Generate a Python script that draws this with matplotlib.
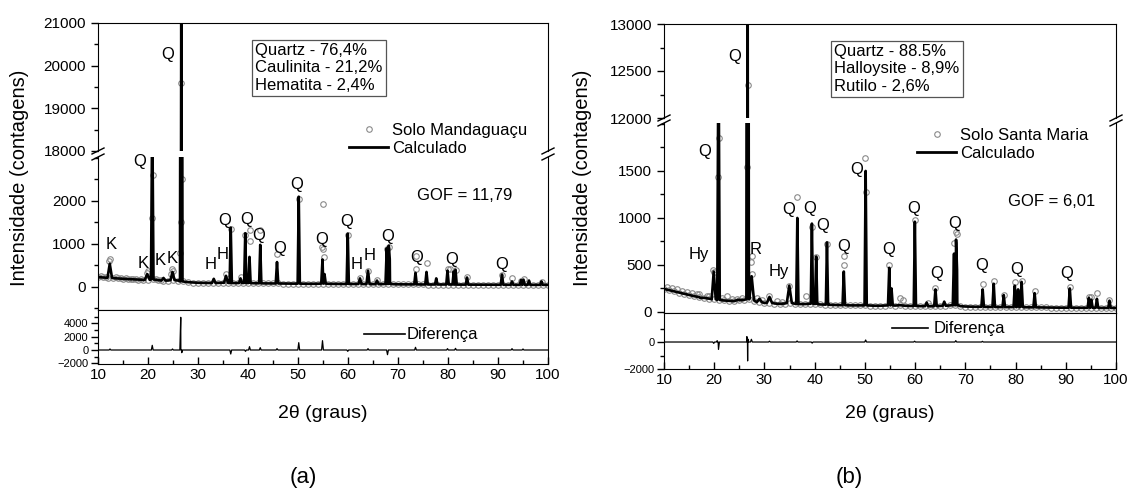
import numpy as np
import matplotlib
matplotlib.use("Agg")
import matplotlib.pyplot as plt
from matplotlib.lines import Line2D
from matplotlib.ticker import MultipleLocator, FixedLocator

plt.rcParams["font.family"] = ["Liberation Sans", "DejaVu Sans"]

W, H = 1134, 491

# ---- (a) Solo Mandaguacu ----
bg_a = [230, 222, 214, 206, 198, 190, 184, 178, 172, 168,
        165, 175, 160, 150, 150, 160, 150, 128, 112, 104,
        98, 95, 93, 92, 95, 100, 96, 92, 92, 94,
        92, 88, 86, 84, 84, 82, 82, 80, 78, 78,
        78, 76, 74, 74, 75, 80, 74, 72, 70, 70,
        70, 70, 70, 68, 68, 66, 66, 68, 72, 66,
        62, 62, 60, 60, 60, 60, 58, 58, 58, 58,
        58, 58, 56, 56, 55, 55, 54, 54, 53, 53,
        52, 52, 52, 51, 51, 50, 50, 50, 50, 50, 50]

pk_a_pos = [12.35, 19.85, 20.85, 23.1, 24.9, 26.65, 33.15, 35.6, 36.55, 38.5,
            39.45, 40.3, 42.45, 45.8, 50.15, 54.9, 55.3, 59.95, 62.4, 64.0,
            65.8, 67.75, 68.15, 68.35, 73.5, 75.7, 77.65, 79.9, 81.15, 81.5,
            83.8, 90.8, 92.8, 94.6, 95.1, 96.2, 98.7]
pk_a_int = [540, 300, 4200, 210, 350, 21500, 190, 260, 1380, 200,
            1250, 700, 980, 580, 2100, 640, 300, 1240, 200, 380,
            150, 900, 960, 650, 330, 350, 200, 380, 360, 400,
            220, 290, 130, 160, 170, 150, 130]
pk_a_hw = [0.45, 0.5, 0.25, 0.4, 0.4, 0.25, 0.35, 0.4, 0.22, 0.3,
           0.22, 0.22, 0.22, 0.25, 0.22, 0.25, 0.25, 0.22, 0.3, 0.3,
           0.3, 0.25, 0.25, 0.25, 0.25, 0.25, 0.25, 0.25, 0.25, 0.25,
           0.25, 0.25, 0.25, 0.25, 0.25, 0.25, 0.25]

obs_a_x = [12.2, 12.4, 19.7, 20.0, 20.85, 20.9, 24.6, 24.8, 25.0, 26.4,
           26.6, 26.65, 26.7, 35.6, 36.5, 38.6, 39.4, 40.3, 40.45, 42.4,
           45.8, 50.1, 54.8, 54.9, 55.0, 55.1, 59.9, 62.4, 64.0, 65.8,
           67.7, 68.1, 73.5, 73.6, 75.7, 79.9, 80.4, 81.5, 83.8, 90.8,
           92.8, 94.6, 95.1, 98.7,
           10.5, 11.5, 13.5, 14.5, 15.5, 16.5, 17.5, 18.5, 21.5, 22.5]
obs_a_y = [600, 650, 330, 370, 1600, 2600, 300, 420, 380, 800,
           1500, 19600, 2500, 300, 1350, 230, 1200, 1330, 1080, 1320,
           760, 2050, 930, 1930, 880, 700, 1200, 200, 380, 170,
           880, 940, 420, 720, 560, 420, 430, 400, 230, 280,
           210, 150, 180, 120,
           250, 238, 222, 212, 205, 196, 190, 184, 190, 172]

dif_a_pos = [12.4, 20.85, 24.9, 26.55, 26.75, 36.55, 39.5, 40.3, 42.45, 45.8,
             50.15, 54.9, 59.95, 64.0, 67.9, 73.5, 79.9, 81.5, 92.8, 95.0]
dif_a_val = [150, 700, 150, 4900, -400, -600, -200, 500, 350, 200,
             1100, 1400, -200, 200, -700, 400, 200, 250, 200, 150]

lab_a = [("Q", 24.0, 20262, "up"), ("Q", 18.4, 2907, "low"),
         ("K", 12.7, 977, "low"), ("K", 19.0, 551, "low"), ("K", 22.5, 605, "low"),
         ("K", 24.9, 667, "low"), ("H", 32.5, 512, "low"), ("H", 35.0, 767, "low"),
         ("Q", 35.3, 1543, "low"), ("Q", 39.7, 1574, "low"), ("Q", 42.2, 1186, "low"),
         ("Q", 46.3, 900, "low"), ("Q", 49.8, 2372, "low"), ("Q", 54.7, 1093, "low"),
         ("Q", 59.7, 1519, "low"), ("H", 61.8, 512, "low"), ("H", 64.3, 721, "low"),
         ("Q", 67.9, 1171, "low"), ("Q", 73.8, 690, "low"), ("Q", 80.8, 644, "low"),
         ("Q", 90.8, 528, "low")]

# ---- (b) Solo Santa Maria ----
bg_b = [245, 232, 218, 205, 192, 180, 168, 158, 150, 142,
        135, 128, 122, 118, 116, 125, 130, 135, 118, 105,
        95, 98, 90, 86, 90, 95, 88, 84, 84, 88,
        85, 80, 78, 76, 74, 72, 72, 70, 70, 70,
        70, 68, 66, 66, 68, 70, 68, 72, 66, 64,
        64, 62, 62, 60, 62, 64, 66, 70, 72, 62,
        58, 56, 55, 55, 54, 54, 53, 52, 52, 52,
        52, 52, 50, 50, 49, 48, 48, 47, 46, 46,
        46, 45, 45, 44, 44, 44, 44, 43, 43, 43, 42]

pk_b_pos = [17.6, 19.9, 20.85, 24.9, 26.65, 27.45, 29.0, 31.0, 34.95, 36.55,
            39.45, 40.3, 42.45, 45.8, 50.15, 54.85, 55.3, 59.95, 62.3, 64.05,
            65.8, 67.75, 68.15, 68.35, 73.45, 75.65, 77.65, 79.85, 80.5, 81.2,
            83.8, 90.8, 94.6, 95.1, 96.2, 98.7]
pk_b_int = [150, 430, 3000, 130, 14000, 380, 140, 160, 280, 1000,
            940, 590, 740, 430, 1500, 470, 250, 960, 100, 240,
            110, 620, 770, 450, 240, 300, 180, 280, 240, 320,
            200, 250, 150, 130, 140, 120]
pk_b_hw = [0.4, 0.4, 0.25, 0.4, 0.25, 0.45, 0.5, 0.5, 0.5, 0.22,
           0.22, 0.22, 0.22, 0.25, 0.22, 0.25, 0.25, 0.22, 0.3, 0.25,
           0.3, 0.25, 0.25, 0.25, 0.25, 0.25, 0.25, 0.25, 0.25, 0.25,
           0.25, 0.25, 0.25, 0.25, 0.25, 0.25]

obs_b_x = [19.8, 20.0, 20.85, 20.9, 22.5, 26.6, 26.65, 27.3, 27.45, 27.6,
           31.0, 34.9, 36.55, 38.3, 39.45, 40.3, 42.45, 45.75, 45.85, 50.1,
           50.2, 54.85, 57.0, 57.5, 59.95, 62.5, 64.05, 67.7, 68.1, 68.3,
           73.45, 75.65, 77.65, 79.85, 81.2, 83.8, 90.8, 94.6, 95.1, 96.2,
           98.7,
           10.5, 11.5, 12.5, 13.5, 14.5, 15.5, 16.5, 17.0, 18.5, 19.0,
           21.5, 23.5, 24.5, 25.5, 28.5, 29.5, 32.5, 33.5]
obs_b_y = [450, 420, 1440, 1850, 170, 1540, 12350, 530, 590, 400,
           170, 280, 1220, 170, 900, 580, 720, 590, 500, 1640,
           1280, 500, 150, 130, 980, 100, 260, 730, 850, 830,
           300, 330, 180, 320, 330, 220, 270, 160, 160, 200,
           130,
           268, 255, 242, 228, 216, 204, 192, 186, 172, 168,
           150, 140, 138, 150, 150, 128, 112, 110]

dif_b_pos = [19.9, 20.6, 20.85, 26.5, 26.65, 26.8, 27.4, 31.0, 36.5, 39.5,
             50.15, 59.9, 68.1, 73.4]
dif_b_val = [-100, 100, -550, 400, -1400, 200, 200, 60, 80, -80,
             150, 60, 100, 50]

lab_b = [("Q", 24.1, 12656, "up"), ("Q", 18.2, 1702, "low"),
         ("Hy", 17.0, 606, "low"), ("R", 28.3, 660, "low"), ("Hy", 32.9, 429, "low"),
         ("Q", 34.8, 1085, "low"), ("Q", 39.1, 1103, "low"), ("Q", 41.6, 915, "low"),
         ("Q", 45.7, 695, "low"), ("Q", 48.4, 1511, "low"), ("Q", 54.8, 660, "low"),
         ("Q", 59.7, 1103, "low"), ("Q", 64.2, 404, "low"), ("Q", 67.9, 936, "low"),
         ("Q", 73.3, 489, "low"), ("Q", 80.2, 454, "low"), ("Q", 90.2, 412, "low")]

grid_x = np.arange(10, 101)


def profile(bg, pos, hgt, hw):
    bg = np.asarray(bg, float)
    keep = np.ones(len(grid_x), bool)
    for p, w in zip(pos, hw):
        keep &= ~((grid_x > p - w) & (grid_x < p + w))
    xs = list(grid_x[keep])
    ys = list(bg[keep])
    for p, h, w in zip(pos, hgt, hw):
        base = bg[int(round(p)) - 10]
        xs += [p - w, p, p + w]
        ys += [base, h, base]
    order = np.argsort(xs, kind="stable")
    return np.array(xs)[order], np.array(ys)[order]


def pax(l, t, r, b):
    return fig.add_axes([l / W, 1 - b / H, (r - l) / W, (b - t) / H])


def brk(x, y):
    # short slanted stroke across a spine, pixel coords (y downwards)
    fig.add_artist(Line2D([(x - 6) / W, (x + 6) / W],
                          [1 - (y + 3) / H, 1 - (y - 3) / H],
                          transform=fig.transFigure, color="k", lw=1))


fig = plt.figure(figsize=(W / 100, H / 100), dpi=100)

panels = [
    dict(bg=bg_a, pos=pk_a_pos, hgt=pk_a_int, hw=pk_a_hw, ox=obs_a_x, oy=obs_a_y,
         dp=dif_a_pos, dv=dif_a_val, labs=lab_a,
         up=(98, 23, 548, 151), low=(98, 157, 548, 310), dif=(98, 310, 548, 364),
         ylim_up=(18000, 21000), ylim_low=(-535, 3023), ylim_dif=(-2100, 6000),
         ticks_up=[18000, 19000, 20000, 21000], minor_up=500,
         ticks_low=[0, 1000, 2000], minor_low=500,
         ticks_dif=[-2000, 0, 2000, 4000], minor_dif=[-1000, 1000, 3000, 5000],
         box="Quartz - 76,4%\nCaulinita - 21,2%\nHematita - 2,4%", box_xy=(255, 43),
         name="Solo Mandaguaçu", leg_xy=(349, 123), hl=2.35, gof="GOF = 11,79",
         gof_xy=(417, 195), dleg_xy=(364, 335), dhl=2.45, dpad=0.12,
         ylab_x=20, xlab_x=323, cap="(a)", cap_x=303),
    dict(bg=bg_b, pos=pk_b_pos, hgt=pk_b_int, hw=pk_b_hw, ox=obs_b_x, oy=obs_b_y,
         dp=dif_b_pos, dv=dif_b_val, labs=lab_b,
         up=(664, 24, 1116, 118), low=(664, 123, 1116, 313), dif=(664, 313, 1116, 369),
         ylim_up=(12000, 13000), ylim_low=(-11, 2010), ylim_dif=(-2000, 2150),
         ticks_up=[12000, 12500, 13000], minor_up=250,
         ticks_low=[0, 500, 1000, 1500], minor_low=250,
         ticks_dif=[-2000, 0], minor_dif=[-1000, 1000],
         box="Quartz - 88.5%\nHalloysite - 8,9%\nRutilo - 2,6%", box_xy=(834, 44),
         name="Solo Santa Maria", leg_xy=(917, 128), hl=2.35, gof="GOF = 6,01",
         gof_xy=(1008, 202), dleg_xy=(892, 329), dhl=2.15, dpad=0.36,
         ylab_x=583, xlab_x=890, cap="(b)", cap_x=849),
]

for p in panels:
    ax_up = pax(*p["up"])
    ax_lo = pax(*p["low"])
    ax_df = pax(*p["dif"])

    cx, cy = profile(p["bg"], p["pos"], p["hgt"], p["hw"])
    ox = np.concatenate([grid_x, p["ox"]])
    oy = np.concatenate([p["bg"], p["oy"]])
    for ax in (ax_up, ax_lo):
        ax.plot(ox, oy, ls="none", marker="o", ms=4, mfc="none", mec="#8a8a8a",
                mew=0.8, zorder=2)
        ax.plot(cx, cy, color="k", lw=1.9, zorder=3)
        ax.set_xlim(10, 100)
        ax.set_xticks([])
        ax.tick_params(axis="y", labelsize=11, length=5, width=1, direction="out")
        ax.tick_params(axis="y", which="minor", length=3, width=1, direction="out")

    ax_up.set_ylim(*p["ylim_up"])
    ax_up.set_yticks(p["ticks_up"])
    ax_up.yaxis.set_minor_locator(MultipleLocator(p["minor_up"]))
    ax_up.spines["bottom"].set_visible(False)

    ax_lo.set_ylim(*p["ylim_low"])
    ax_lo.set_yticks(p["ticks_low"])
    ax_lo.yaxis.set_minor_locator(MultipleLocator(p["minor_low"]))
    ax_lo.spines["top"].set_visible(False)

    dx, dy = profile(np.zeros(91), p["dp"], p["dv"], [0.18] * len(p["dp"]))
    ax_df.plot(dx, dy, color="k", lw=0.9)
    ax_df.set_xlim(10, 100)
    ax_df.set_ylim(*p["ylim_dif"])
    ax_df.yaxis.set_major_locator(FixedLocator(p["ticks_dif"]))
    ax_df.yaxis.set_minor_locator(FixedLocator(p["minor_dif"]))
    ax_df.set_xticks(range(10, 101, 10))
    ax_df.xaxis.set_minor_locator(MultipleLocator(5))
    ax_df.tick_params(axis="y", labelsize=8, length=5, width=1, direction="out", pad=2)
    ax_df.tick_params(axis="y", which="minor", length=3, width=1, direction="out")
    ax_df.tick_params(axis="x", labelsize=11, length=5, width=1, direction="in", pad=3)
    ax_df.tick_params(axis="x", which="minor", length=3, width=1, direction="in")

    for s, x, y, where in p["labs"]:
        ax = ax_up if where == "up" else ax_lo
        ax.text(x, y, s, ha="center", va="center", fontsize=12, zorder=5)

    # break marks on both spines
    l, t, r, b = p["up"]
    for xx in (l, r):
        brk(xx, b)
        brk(xx, p["low"][1])

    bx, by = p["box_xy"]
    fig.text(bx / W, 1 - by / H, p["box"], ha="left", va="top", fontsize=12,
             linespacing=1.2,
             bbox=dict(boxstyle="square,pad=0.2", fc="white", ec="#555555", lw=0.9))

    h1 = Line2D([], [], ls="none", marker="o", ms=4, mfc="none", mec="#8a8a8a", mew=0.8)
    h2 = Line2D([], [], color="k", lw=2)
    lx, ly = p["leg_xy"]
    fig.legend([h1, h2], [p["name"], "Calculado"], loc="upper left",
               bbox_to_anchor=(lx / W, 1 - ly / H), frameon=False, fontsize=12,
               handlelength=p["hl"], handletextpad=0.25, labelspacing=0.2,
               borderpad=0, borderaxespad=0)

    gx, gy = p["gof_xy"]
    fig.text(gx / W, 1 - gy / H, p["gof"], ha="left", va="center", fontsize=12)

    dlx, dly = p["dleg_xy"]
    fig.legend([Line2D([], [], color="k", lw=1.2)], ["Diferença"], loc="center left",
               bbox_to_anchor=(dlx / W, 1 - dly / H), frameon=False, fontsize=12,
               handlelength=p["dhl"], handletextpad=p["dpad"],
               borderpad=0, borderaxespad=0)

    fig.text(p["ylab_x"] / W, 1 - 178 / H, "Intensidade (contagens)", rotation=90,
             ha="center", va="center", fontsize=14.5)
    fig.text(p["xlab_x"] / W, 1 - 413 / H, "2θ (graus)", ha="center", va="center",
             fontsize=14)
    fig.text(p["cap_x"] / W, 1 - 477 / H, p["cap"], ha="center", va="center",
             fontsize=16)

fig.savefig("out.png", dpi=100)
